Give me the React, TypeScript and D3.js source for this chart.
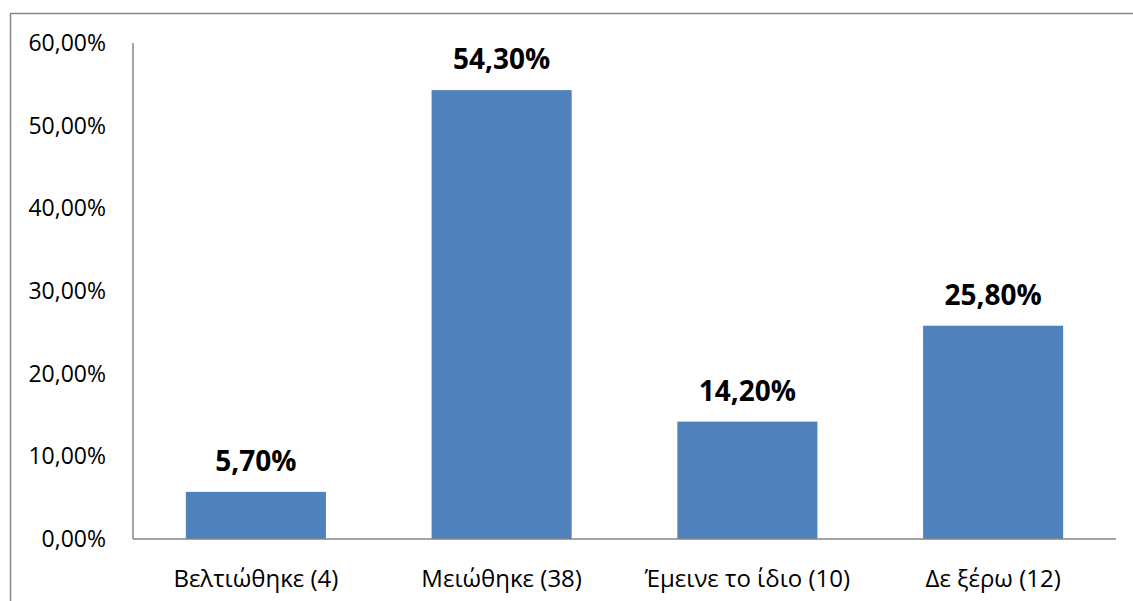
import React from "react";
import * as d3 from "d3";

const categories: string[] = ["Βελτιώθηκε (4)", "Μειώθηκε (38)", "Έμεινε το ίδιο (10)", "Δε ξέρω (12)"];
const values: number[] = [5.7, 54.3, 14.2, 25.8];
const yTicks: number[] = [0, 10, 20, 30, 40, 50, 60];

const W = 1133;
const H = 601;
const FONT = "'Open Sans', 'Noto Sans', sans-serif";

export default function App() {
  const x = d3.scaleBand<string>().domain(categories).range([133, 1116]).paddingInner(0.43).paddingOuter(0.215);
  const y = d3.scaleLinear().domain([0, 60]).range([539, 43]);
  const fmt = (v: number) => d3.format(".2f")(v).replace(".", ",") + "%";

  return (
    <svg width={W} height={H} style={{ position: "absolute", left: 0, top: 0, background: "#fff" }}>
      <rect x={10.5} y={13.5} width={W + 20} height={H + 20} fill="#fff" stroke="#868686" strokeWidth={1.5} />
      {yTicks.map((t) => (
        <text key={t} x={106} y={y(t)} dy="0.35em" textAnchor="end" fontFamily={FONT} fontSize={23} fill="#000">
          {fmt(t)}
        </text>
      ))}
      {categories.map((c, i) => (
        <g key={c}>
          <rect x={x(c)} y={y(values[i])} width={x.bandwidth()} height={y(0) - y(values[i])} fill="#4F81BD" />
          <text x={(x(c) as number) + x.bandwidth() / 2} y={y(values[i]) - 21} textAnchor="middle" fontFamily={FONT} fontWeight="bold" fontSize={28} fill="#000">
            {fmt(values[i])}
          </text>
          <text x={(x(c) as number) + x.bandwidth() / 2} y={587} textAnchor="middle" fontFamily={FONT} fontSize={24} fill="#000">
            {c}
          </text>
        </g>
      ))}
      <line x1={133} x2={133} y1={y(60)} y2={y(0)} stroke="#868686" strokeWidth={1.5} />
      <line x1={133} x2={1116} y1={y(0)} y2={y(0)} stroke="#868686" strokeWidth={1.5} />
    </svg>
  );
}
